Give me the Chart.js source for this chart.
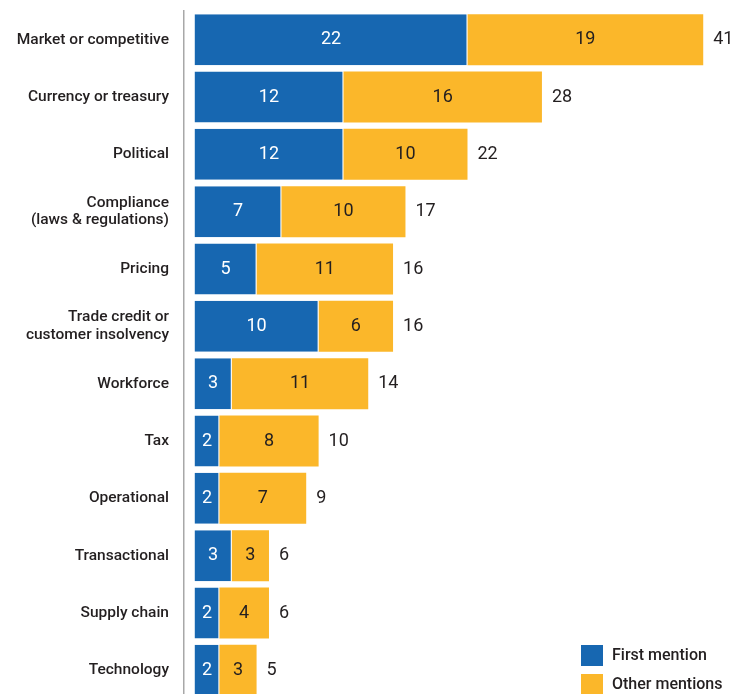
<!DOCTYPE html>
<html><head><meta charset="utf-8">
<script src="https://cdn.jsdelivr.net/npm/chart.js@4/dist/chart.umd.min.js"></script>
<style>html,body{margin:0;padding:0;background:#fff;overflow:hidden}#wrap{width:736px;height:700px}</style>
</head><body><div id="wrap"><canvas id="c" width="736" height="700"></canvas></div>
<script>
const categories = ["Market or competitive","Currency or treasury","Political",["Compliance","(laws & regulations)"],"Pricing",["Trade credit or","customer insolvency"],"Workforce","Tax","Operational","Transactional","Supply chain","Technology"];
const firstMention = [22,12,12,7,5,10,3,2,2,3,2,2];
const otherMentions = [19,16,10,10,11,6,11,8,7,3,4,3];
const seriesNames = ["First mention","Other mentions"];
const BLUE = "#1767b1", YELLOW = "#fbb72a", TXT = "#231f20";
const FONT = "Roboto, 'DejaVu Sans Condensed', sans-serif";

const labelPlugin = {
  id: 'labels',
  afterDatasetsDraw(chart) {
    const ctx = chart.ctx;
    ctx.save();
    ctx.textBaseline = 'middle';
    const m0 = chart.getDatasetMeta(0), m1 = chart.getDatasetMeta(1);
    ctx.font = "18px " + FONT;
    ctx.textAlign = 'center';
    m0.data.forEach((b, i) => {
      ctx.fillStyle = '#fff';
      ctx.fillText(String(firstMention[i]), (b.x + b.base) / 2, b.y);
    });
    m1.data.forEach((b, i) => {
      ctx.fillStyle = TXT;
      ctx.fillText(String(otherMentions[i]), (b.x + b.base) / 2, b.y);
      ctx.textAlign = 'left';
      ctx.fillText(String(firstMention[i] + otherMentions[i]), b.x + 10, b.y);
      ctx.textAlign = 'center';
    });
    // legend
    const cols = [BLUE, YELLOW];
    ctx.font = "500 16px " + FONT;
    ctx.textAlign = 'left';
    [0,1].forEach(k => {
      const y = 645 + k * 29;
      ctx.fillStyle = cols[k];
      ctx.fillRect(581, y, 22, 21);
      ctx.fillStyle = TXT;
      ctx.fillText(chart.data.datasets[k].label, 612, y + 11);
    });
    ctx.restore();
  }
};

new Chart(document.getElementById('c'), {
  type: 'bar',
  data: {
    labels: categories,
    datasets: [
      { label: seriesNames[0], data: firstMention, backgroundColor: BLUE, borderColor: '#fff', borderWidth: {right: 1, top: 0, bottom: 0, left: 0}, borderSkipped: false },
      { label: seriesNames[1], data: otherMentions, backgroundColor: YELLOW, borderWidth: 0 }
    ]
  },
  options: {
    indexAxis: 'y',
    responsive: false,
    animation: false,
    devicePixelRatio: 1,
    layout: { padding: { top: 11, bottom: 1, right: 3, left: 0 } },
    datasets: { bar: { barPercentage: 0.89, categoryPercentage: 1 } },
    plugins: { legend: { display: false }, tooltip: { enabled: false } },
    scales: {
      x: { stacked: true, min: -0.85, max: 43.4, display: false, grid: { display: false } },
      y: {
        stacked: true,
        afterFit(s) { s.width = 184; s.paddingTop = 0; s.paddingBottom = 0; },
        grid: { display: false, drawTicks: false },
        border: { display: true, color: '#a8a8a8', width: 1.5 },
        ticks: { padding: 15, color: TXT, font: { family: FONT, size: 15.5, weight: '500', lineHeight: 1.15 } }
      }
    }
  },
  plugins: [labelPlugin]
});
</script></body></html>
